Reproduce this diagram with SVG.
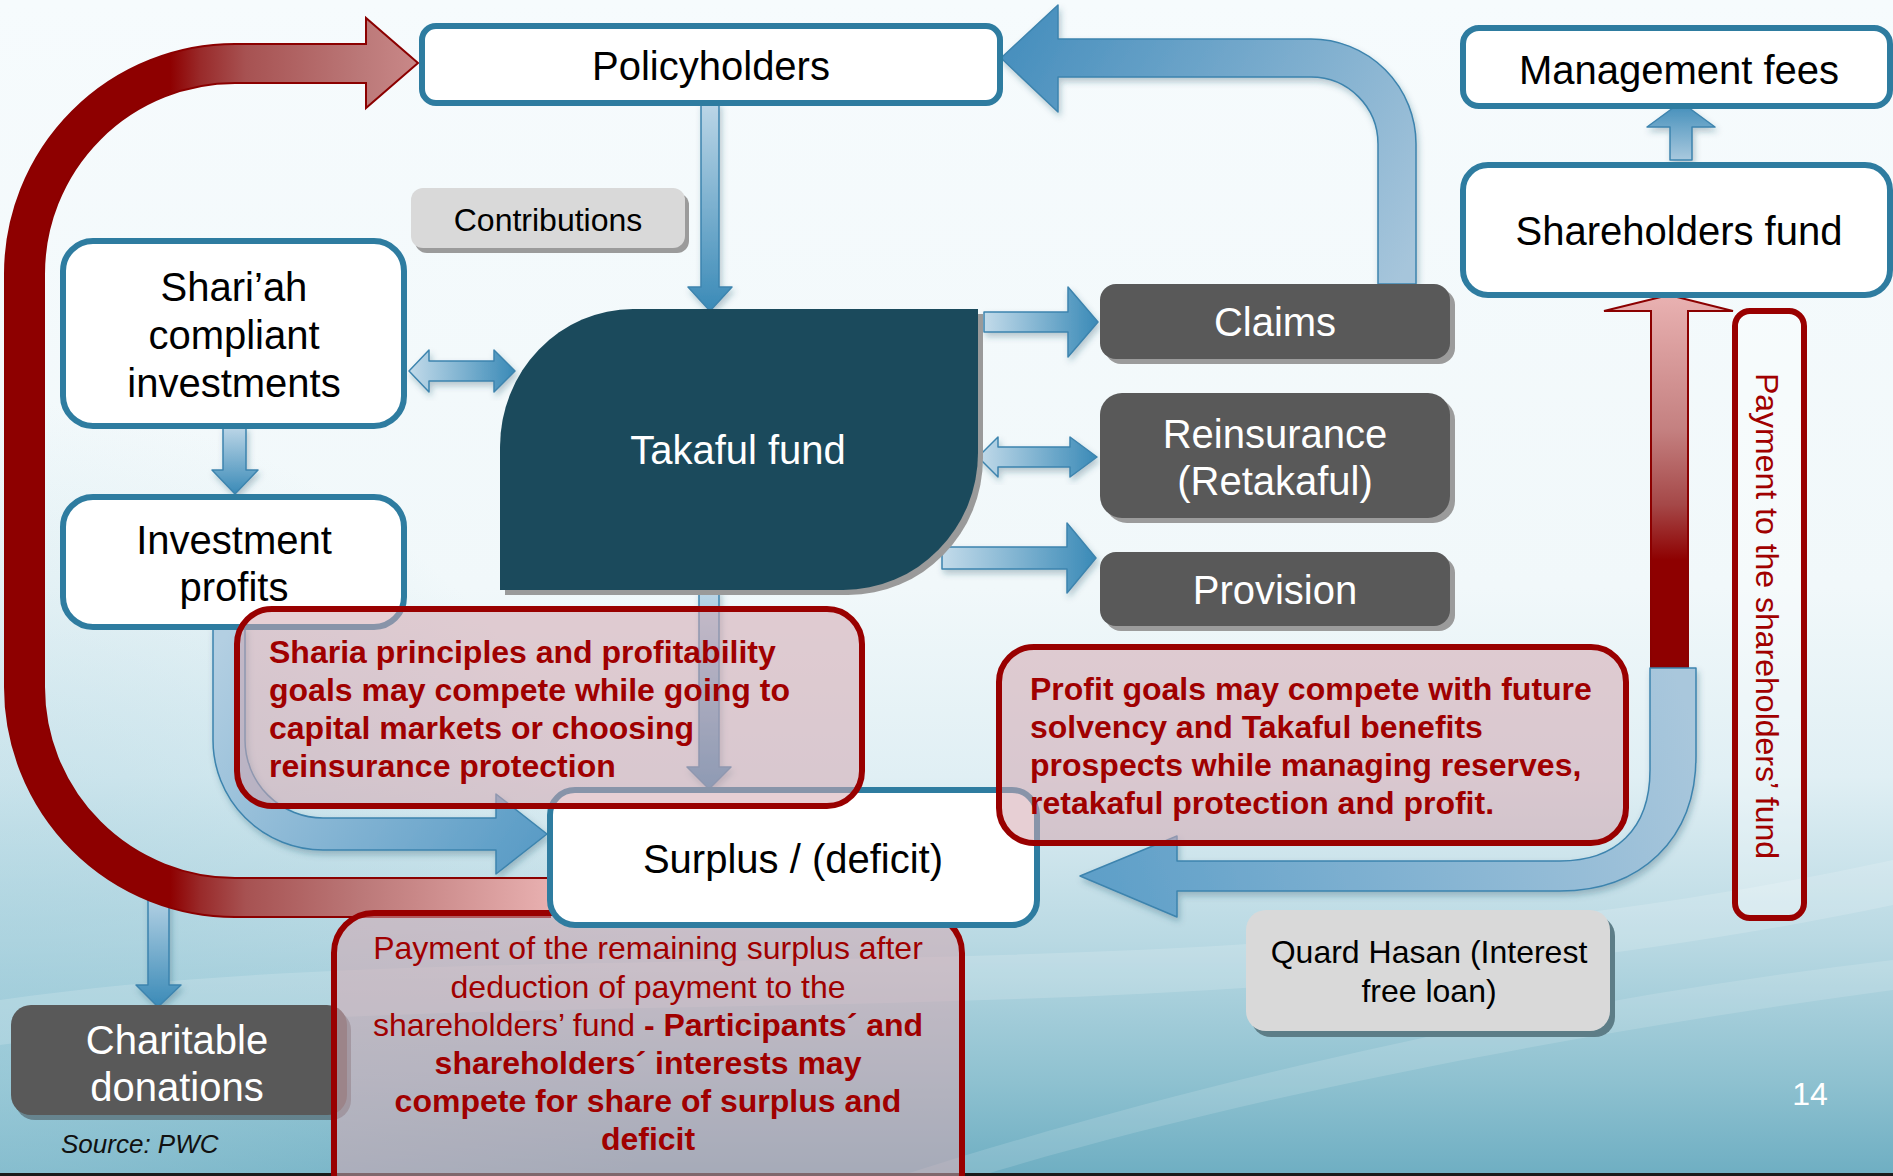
<svg xmlns="http://www.w3.org/2000/svg" width="1893" height="1176" viewBox="0 0 1893 1176">
  <defs>
    <style>
      text { font-family: "Liberation Sans", Arial, Helvetica, sans-serif; }
      .f40 { font-size: 40px; }
      .f32 { font-size: 32px; }
      .ink { fill: #000; }
      .paper { fill: #fff; }
      .mid { text-anchor: middle; }
      .wbox { fill: #fff; stroke: #2e7ca0; stroke-width: 6; }
      .gbox { fill: #595959; }
      .gshadow { fill: #9b9b9b; }
      .lbox { fill: #d9d9d9; }
      .callout { fill: #d4a8b0; fill-opacity: 0.55; stroke: #990000; stroke-width: 6; }
      .note { fill: #a00000; font-size: 32px; }
      .b { font-weight: bold; }
      .pipe { stroke: #3d84ae; stroke-width: 1.5; stroke-linejoin: round; filter: url(#soft); }
      .redpipe { stroke: #8b0000; stroke-width: 2; stroke-linejoin: miter; }
    </style>
    <linearGradient id="bg" x1="0" y1="0" x2="0" y2="1">
      <stop offset="0" stop-color="#f6fbfd"/>
      <stop offset="0.5" stop-color="#f1f8fa"/>
      <stop offset="0.66" stop-color="#e0eff4"/>
      <stop offset="0.8" stop-color="#b9d9e3"/>
      <stop offset="0.92" stop-color="#8ec1d0"/>
      <stop offset="1" stop-color="#6eaec2"/>
    </linearGradient>
    <radialGradient id="bgLeft" gradientUnits="userSpaceOnUse" cx="0" cy="1050" r="650">
      <stop offset="0" stop-color="#9fcddb" stop-opacity="0.6"/>
      <stop offset="1" stop-color="#9fcddb" stop-opacity="0"/>
    </radialGradient>
    <linearGradient id="bR" x1="0" y1="0" x2="1" y2="0">
      <stop offset="0" stop-color="#c3dbea"/>
      <stop offset="1" stop-color="#3a8ab7"/>
    </linearGradient>
    <linearGradient id="bD" x1="0" y1="0" x2="0" y2="1">
      <stop offset="0" stop-color="#bcd6e7"/>
      <stop offset="1" stop-color="#3a8ab7"/>
    </linearGradient>
    <linearGradient id="bU" x1="0" y1="1" x2="0" y2="0">
      <stop offset="0" stop-color="#a9c9de"/>
      <stop offset="1" stop-color="#3f8cb9"/>
    </linearGradient>
    <linearGradient id="bClaims" gradientUnits="userSpaceOnUse" x1="1397" y1="284" x2="1010" y2="58">
      <stop offset="0" stop-color="#a6c5db"/>
      <stop offset="1" stop-color="#4990be"/>
    </linearGradient>
    <linearGradient id="bInvest" gradientUnits="userSpaceOnUse" x1="229" y1="630" x2="540" y2="840">
      <stop offset="0" stop-color="#b3cfe2"/>
      <stop offset="1" stop-color="#5a9cc6"/>
    </linearGradient>
    <linearGradient id="bReturn" gradientUnits="userSpaceOnUse" x1="1673" y1="668" x2="1090" y2="876">
      <stop offset="0" stop-color="#a9c7dc"/>
      <stop offset="1" stop-color="#5e9fc8"/>
    </linearGradient>
    <linearGradient id="rLoop" gradientUnits="userSpaceOnUse" x1="170" y1="0" x2="550" y2="0">
      <stop offset="0" stop-color="#8e0000"/>
      <stop offset="0.08" stop-color="#992a2a"/>
      <stop offset="0.2" stop-color="#a75252"/>
      <stop offset="0.5" stop-color="#bb7878"/>
      <stop offset="0.65" stop-color="#c98888"/>
      <stop offset="1" stop-color="#e8b0b0"/>
    </linearGradient>
    <linearGradient id="rUp" gradientUnits="userSpaceOnUse" x1="0" y1="300" x2="0" y2="672">
      <stop offset="0" stop-color="#e8b0b0"/>
      <stop offset="0.35" stop-color="#c48080"/>
      <stop offset="0.55" stop-color="#a54848"/>
      <stop offset="0.7" stop-color="#8e0000"/>
      <stop offset="1" stop-color="#8e0000"/>
    </linearGradient>
    <filter id="soft" x="-20%" y="-20%" width="140%" height="140%">
      <feDropShadow dx="2" dy="4" stdDeviation="3" flood-color="#1d4f66" flood-opacity="0.3"/>
    </filter>
  </defs>

  <!-- backdrop -->
  <rect x="0" y="0" width="1893" height="1176" fill="url(#bg)"/>
  <rect x="0" y="0" width="1893" height="1176" fill="url(#bgLeft)"/>
  <g id="swooshes" fill="#ffffff">
    <path d="M0,1000 C520,925 1200,1010 1893,860 L1893,905 C1200,1050 520,975 0,1045 Z" opacity="0.16"/>
    <path d="M900,1176 C1200,1080 1550,1000 1893,960 L1893,990 C1560,1035 1230,1100 980,1176 Z" opacity="0.14"/>
  </g>
  <rect x="0" y="1173" width="1893" height="3" fill="#1a1a1a"/>

  <!-- flows between the parties -->
  <g id="connectors">
    <!-- contributions: policyholders to fund -->
    <path id="arrow-contributions" class="pipe" fill="url(#bD)" d="M701,103 H719 V287 H732 L710,311 L688,287 H701 Z"/>
    <!-- investments exchange -->
    <path id="arrow-investments" class="pipe" fill="url(#bR)" d="M409,371 L429,350 V361 H494 V350 L515,371 L494,392 V381 H429 V392 Z"/>
    <!-- investments to profits -->
    <path id="arrow-profits" class="pipe" fill="url(#bD)" d="M223,427 H246 V470 H258 L235,494 L212,470 H223 Z"/>
    <!-- fund to claims / reinsurance / provision -->
    <path id="arrow-claims" class="pipe" fill="url(#bR)" d="M984,312 H1068 V287 L1098,322 L1068,357 V332 H984 Z"/>
    <path id="arrow-reinsurance" class="pipe" fill="url(#bR)" d="M978,457 L998,437 V447 H1070 V437 L1097,457 L1070,477 V467 H998 V477 Z"/>
    <path id="arrow-provision" class="pipe" fill="url(#bR)" d="M942,547 H1067 V523 L1096,558 L1067,593 V569 H942 Z"/>
    <!-- claims paid back to policyholders -->
    <path id="arrow-claims-paid" class="pipe" fill="url(#bClaims)" d="M1416,284 V144 A105,105 0 0 0 1311,39 H1058 V5 L1001,58 L1058,112 V77 H1311 A67,67 0 0 1 1378,144 V284 Z"/>
    <!-- investment profits to surplus -->
    <path id="arrow-profit-surplus" class="pipe" fill="url(#bInvest)" d="M213,627 V740 A110,110 0 0 0 323,850 H496 V874 L547,834 L496,794 V818 H323 A78,78 0 0 1 245,740 V627 Z"/>
    <!-- fund result to surplus -->
    <path id="arrow-fund-surplus" class="pipe" fill="url(#bD)" d="M699,590 H719 V767 H731 L709,789 L687,767 H699 Z"/>
    <!-- surplus to charity -->
    <path id="arrow-charity" class="pipe" fill="url(#bD)" d="M148,890 H169 V985 H181 L158,1007 L136,985 H148 Z"/>
    <!-- shareholders fund to management fees -->
    <path id="arrow-fees" class="pipe" fill="url(#bU)" d="M1670,160 V127 H1647 L1681,102 L1715,127 H1692 V160 Z"/>
    <!-- payment to shareholders' fund -->
    <path id="arrow-shareholders" class="redpipe" fill="url(#rUp)" d="M1651,672 V311 H1604 L1669,295 L1733,311 H1688 V672 Z"/>
    <!-- quard hasan loan back to surplus -->
    <path id="arrow-loan" class="pipe" fill="url(#bReturn)" d="M1696,668 V756 C1696,840 1640,891 1560,891 H1177 V917 L1080,876 L1177,836 V861 H1560 C1615,861 1650,830 1650,770 V668 Z"/>
    <!-- surplus distributed back to policyholders -->
    <path id="arrow-surplus-return" class="redpipe" fill="url(#rLoop)" d="M550,878 H235 A191,191 0 0 1 44,687 V274 A191,191 0 0 1 235,83 H366 V108 L418,63 L366,18 V44 H235 A230,230 0 0 0 5,274 V687 A230,230 0 0 0 235,917 H550 Z"/>
  </g>

  <g id="policyholders">
    <rect class="wbox" x="422" y="26" width="578" height="77" rx="14"/>
    <text class="f40 ink mid" x="711" y="80">Policyholders</text>
  </g>

  <g id="contributions">
    <rect class="gshadow" x="415" y="193" width="274" height="60" rx="12"/>
    <rect class="lbox" x="411" y="188" width="274" height="60" rx="12"/>
    <text class="f32 ink mid" x="548" y="231">Contributions</text>
  </g>

  <g id="shariah-investments">
    <rect class="wbox" x="63" y="241" width="341" height="185" rx="30"/>
    <text class="f40 ink mid" x="234" y="301">Shari’ah</text>
    <text class="f40 ink mid" x="234" y="349">compliant</text>
    <text class="f40 ink mid" x="234" y="397">investments</text>
  </g>

  <g id="investment-profits">
    <rect class="wbox" x="63" y="497" width="341" height="130" rx="30"/>
    <text class="f40 ink mid" x="234" y="554">Investment</text>
    <text class="f40 ink mid" x="234" y="601">profits</text>
  </g>

  <g id="takaful-fund">
    <path fill="#9a9a9a" transform="translate(5,5)" d="M633,309 H978 V453 A135,137 0 0 1 843,590 H500 V447 A133,138 0 0 1 633,309 Z"/>
    <path fill="#1b4a5c" d="M633,309 H978 V453 A135,137 0 0 1 843,590 H500 V447 A133,138 0 0 1 633,309 Z"/>
    <text class="f40 paper mid" x="738" y="464">Takaful fund</text>
  </g>

  <g id="claims">
    <rect class="gshadow" x="1105" y="289" width="350" height="75" rx="16"/>
    <rect class="gbox" x="1100" y="284" width="350" height="75" rx="16"/>
    <text class="f40 paper mid" x="1275" y="336">Claims</text>
  </g>

  <g id="reinsurance">
    <rect class="gshadow" x="1105" y="398" width="350" height="125" rx="22"/>
    <rect class="gbox" x="1100" y="393" width="350" height="125" rx="22"/>
    <text class="f40 paper mid" x="1275" y="448">Reinsurance</text>
    <text class="f40 paper mid" x="1275" y="495">(Retakaful)</text>
  </g>

  <g id="provision">
    <rect class="gshadow" x="1105" y="557" width="350" height="74" rx="16"/>
    <rect class="gbox" x="1100" y="552" width="350" height="74" rx="16"/>
    <text class="f40 paper mid" x="1275" y="604">Provision</text>
  </g>

  <g id="management-fees">
    <rect class="wbox" x="1463" y="28" width="427" height="78" rx="16"/>
    <text class="f40 ink mid" x="1679" y="84">Management fees</text>
  </g>

  <g id="shareholders-fund">
    <rect class="wbox" x="1463" y="165" width="427" height="130" rx="25"/>
    <text class="f40 ink mid" x="1679" y="245">Shareholders fund</text>
  </g>

  <g id="payment-label">
    <rect x="1735" y="311" width="69" height="607" rx="15" fill="#ffffff" fill-opacity="0.3" stroke="#990000" stroke-width="6"/>
    <text class="f32 mid" fill="#a00000" transform="translate(1767,616) rotate(90)" x="0" y="11">Payment to the shareholders’ fund</text>
  </g>

  <g id="charitable-donations">
    <rect x="15" y="1010" width="336" height="110" rx="20" fill="#4b5a60" fill-opacity="0.6"/>
    <rect class="gbox" x="11" y="1005" width="336" height="110" rx="20"/>
    <text class="f40 paper mid" x="177" y="1054">Charitable</text>
    <text class="f40 paper mid" x="177" y="1101">donations</text>
  </g>

  <g id="quard-hasan">
    <rect x="1251" y="916" width="364" height="121" rx="20" fill="#5d7d87"/>
    <rect class="lbox" x="1246" y="910" width="364" height="121" rx="20"/>
    <text class="f32 ink mid" x="1429" y="963">Quard Hasan (Interest</text>
    <text class="f32 ink mid" x="1429" y="1002">free loan)</text>
  </g>

  <g id="callout-surplus">
    <rect class="callout" x="334" y="913" width="628" height="300" rx="40"/>
    <text class="note mid" x="648" y="959">Payment of the remaining surplus after</text>
    <text class="note mid" x="648" y="998">deduction of payment to the</text>
    <text class="note mid" x="648" y="1036">shareholders’ fund <tspan class="b">- Participants´ and</tspan></text>
    <text class="note mid b" x="648" y="1074">shareholders´ interests may</text>
    <text class="note mid b" x="648" y="1112">compete for share of surplus and</text>
    <text class="note mid b" x="648" y="1150">deficit</text>
  </g>

  <g id="surplus-deficit">
    <rect class="wbox" x="550" y="790" width="487" height="135" rx="25"/>
    <text class="f40 ink mid" x="793" y="873">Surplus / (deficit)</text>
  </g>

  <g id="callout-sharia">
    <rect class="callout" x="237" y="609" width="625" height="197" rx="35"/>
    <text class="note b" x="269" y="663">Sharia principles and profitability</text>
    <text class="note b" x="269" y="701">goals may compete while going to</text>
    <text class="note b" x="269" y="739">capital markets or choosing</text>
    <text class="note b" x="269" y="777">reinsurance protection</text>
  </g>

  <g id="callout-profit">
    <rect class="callout" x="999" y="647" width="627" height="196" rx="35"/>
    <text class="note b" x="1030" y="700">Profit goals may compete with future</text>
    <text class="note b" x="1030" y="738">solvency and Takaful benefits</text>
    <text class="note b" x="1030" y="776">prospects while managing reserves,</text>
    <text class="note b" x="1030" y="814">retakaful protection and profit.</text>
  </g>

  <g id="source">
    <text x="61" y="1153" font-size="26" font-style="italic" fill="#111">Source: PWC</text>
  </g>

  <g id="page-number">
    <text class="f32 paper mid" x="1810" y="1105">14</text>
  </g>
</svg>
